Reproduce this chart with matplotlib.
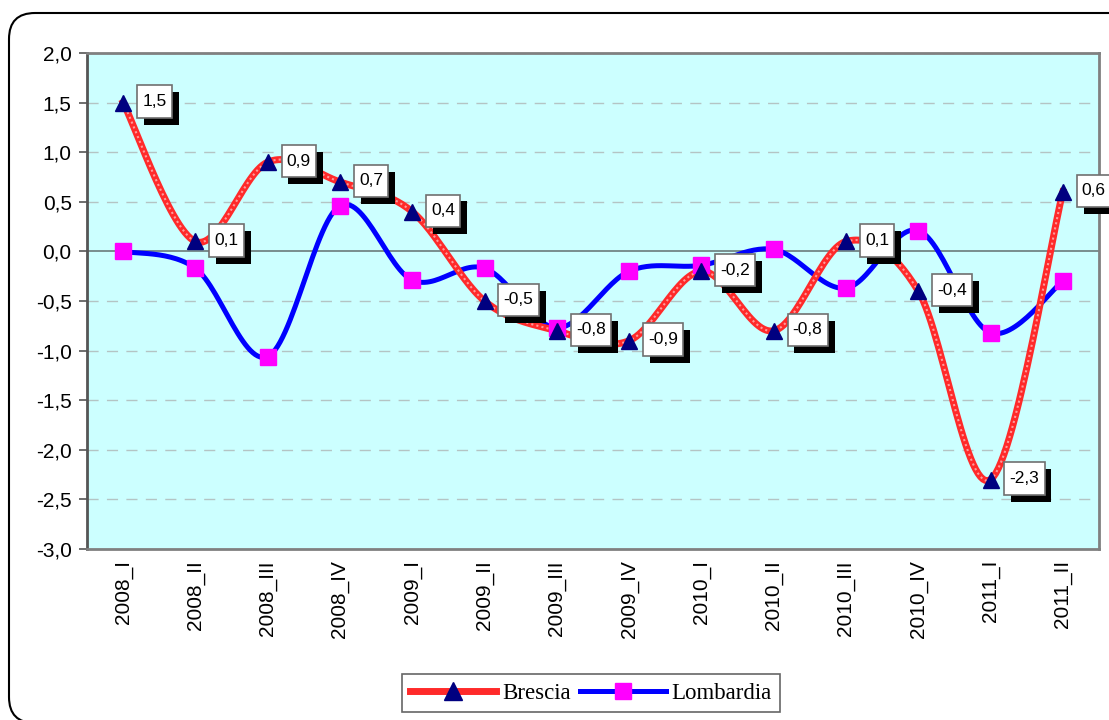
import numpy as np
import matplotlib
matplotlib.use("Agg")
import matplotlib.pyplot as plt
from matplotlib.patches import FancyBboxPatch
from matplotlib.path import Path
from matplotlib.lines import Line2D
from matplotlib.transforms import IdentityTransform
import matplotlib.patheffects as pe

quarters = ["2008_I", "2008_II", "2008_III", "2008_IV", "2009_I", "2009_II", "2009_III",
            "2009_IV", "2010_I", "2010_II", "2010_III", "2010_IV", "2011_I", "2011_II"]
brescia = [1.5, 0.1, 0.9, 0.7, 0.4, -0.5, -0.8, -0.9, -0.2, -0.8, 0.1, -0.4, -2.3, 0.6]
lombardia = [0.0, -0.17, -1.06, 0.46, -0.29, -0.17, -0.77, -0.2, -0.14, 0.02, -0.37, 0.21, -0.82, -0.30]


def smooth(xs, ys, steps=30):
    # bezier smoothing through every point, like spreadsheet "smoothed line"
    p = np.column_stack([xs, ys]).astype(float)
    p = np.vstack([p[0], p, p[-1]])
    out = []
    for i in range(1, len(p) - 2):
        p0, p1, p2, p3 = p[i], p[i] + (p[i + 1] - p[i - 1]) / 6, p[i + 1] - (p[i + 2] - p[i]) / 6, p[i + 1]
        t = np.linspace(0, 1, steps)[:, None]
        seg = (1 - t) ** 3 * p0 + 3 * (1 - t) ** 2 * t * p1 + 3 * (1 - t) * t ** 2 * p2 + t ** 3 * p3
        out.append(seg if i == 1 else seg[1:])
    out = np.vstack(out)
    return out[:, 0], out[:, 1]


def label_box(x0, y0, width, height, mutation_size):
    # plain rectangle, a bit taller than the default square pad
    px, py = 0.3 * mutation_size, 0.5 * mutation_size
    x0, y0 = x0 - px, y0 - py
    x1, y1 = x0 + width + 2 * px, y0 + height + 2 * py
    return Path([(x0, y0), (x1, y0), (x1, y1), (x0, y1), (x0, y0)], closed=True)


plt.rcParams['font.family'] = ['Liberation Sans', 'DejaVu Sans']

fig = plt.figure(figsize=(11.09, 7.2), dpi=100)
fig.patch.set_facecolor("white")

# rounded outer frame (pixel units)
frame = FancyBboxPatch((9, -3), 1150, 710, boxstyle="round,pad=0,rounding_size=26",
                       transform=IdentityTransform(), fill=False, edgecolor="black", lw=1.5)
fig.patches.append(frame)

ax = fig.add_axes([87 / 1109, 1 - 549 / 720, (1099 - 87) / 1109, (549 - 53) / 720])
ax.set_facecolor("#ccffff")

x = np.arange(len(quarters))

for yv in np.arange(-2.5, 2.01, 0.5):
    if abs(yv) > 1e-9:
        ax.axhline(yv, color="#b4c4c4", lw=1, dashes=(8, 6), zorder=1)
ax.axhline(0, color="#6a7a7a", lw=1.2, zorder=1)

lx, ly = smooth(x, lombardia)
ax.plot(lx, ly, color="#0000ff", lw=3.6, solid_capstyle="round", zorder=2)
ax.plot(x, lombardia, ls="none", marker="s", ms=11, color="#ff00ff", zorder=4)

bx, by = smooth(x, brescia)
ax.plot(bx, by, color="#ff2a2a", lw=5, zorder=3)
ax.plot(bx, by, color="#ff9a9a", lw=1.5, dashes=(1, 1.5), zorder=3)
ax.plot(x, brescia, ls="none", marker="^", ms=11, color="#000080", zorder=5)

for xi, v in zip(x, brescia):
    t = ax.annotate(f"{v:.1f}".replace(".", ","), (xi, v), xytext=(19, 1),
                    textcoords="offset pixels", ha="left", va="center", fontsize=12.5,
                    bbox=dict(boxstyle=label_box, fc="white", ec="#707070", lw=1.2),
                    zorder=6)
    t.get_bbox_patch().set_path_effects([
        pe.withSimplePatchShadow(offset=(5, -5), shadow_rgbFace="black", alpha=1)])

ax.set_xlim(-0.5, len(quarters) - 0.5)
ax.set_ylim(-3.0, 2.0)
yt = np.arange(-3.0, 2.01, 0.5)
ax.set_yticks(yt)
ax.set_yticklabels([f"{v:.1f}".replace(".", ",") for v in yt], fontsize=15)
ax.set_xticks(x)
ax.set_xticklabels(quarters, rotation=90, fontsize=15)
ax.tick_params(axis="x", length=0, pad=8)
ax.tick_params(axis="y", length=6, width=1.2, color="#555555", pad=5)
for s in ax.spines.values():
    s.set_color("#808080")
    s.set_linewidth(2)
ax.spines["left"].set_color("#555555")

handles = [
    Line2D([], [], color="#ff2a2a", lw=5, marker="^", ms=13, mfc="#000080", mec="#000080"),
    Line2D([], [], color="#0000ff", lw=3.6, marker="s", ms=12, mfc="#ff00ff", mec="#ff00ff"),
]
leg = fig.legend(handles, ["Brescia", "Lombardia"], loc="center", bbox_to_anchor=(0.533, 0.0375),
                 ncol=2, handlelength=3.75, handletextpad=0.25, columnspacing=0.4, fancybox=False,
                 edgecolor="#404040", prop={"family": "Liberation Serif", "size": 16.5},
                 borderpad=0.35, borderaxespad=0)
leg.get_frame().set_linewidth(1.2)

fig.savefig("out.png", dpi=100)
